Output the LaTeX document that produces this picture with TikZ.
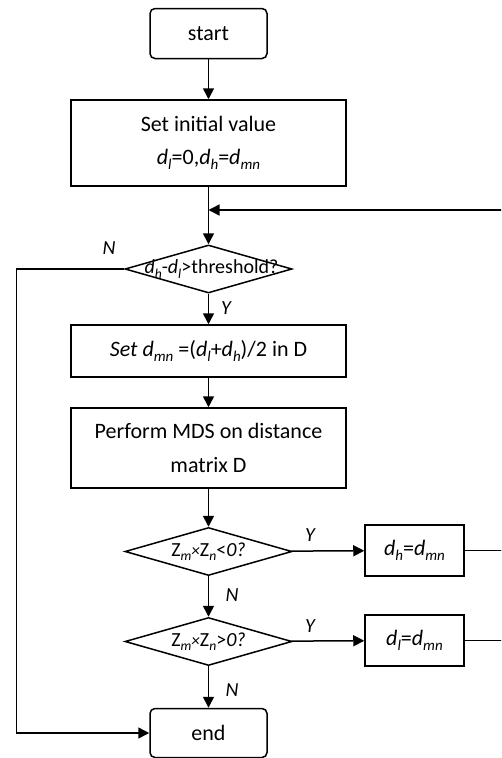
\documentclass[tikz,border=0pt]{standalone}
\usepackage{fontspec}
\setmainfont{Carlito}
\usetikzlibrary{shapes.geometric,arrows.meta}
\newcommand\lo[1]{\raisebox{-0.22em}{\scalebox{0.68}{\itshape #1}}}
\newcommand\vd{\textit{d}}
\newcommand\tms{{\itshape\scalebox{0.85}{×}}}
\tikzset{
  conn/.style={line width=1.5pt},
  >={Triangle[length=11pt,width=11pt]},
  box/.style={draw, line width=1.5pt, minimum width=275pt, inner sep=0pt, align=center, font=\fontsize{22}{34}\selectfont},
  term/.style={draw, line width=1.5pt, rounded corners=5pt, minimum width=117pt, minimum height=50pt, inner sep=0pt, font=\fontsize{22}{26}\selectfont},
  small/.style={draw, line width=1.5pt, minimum width=99pt, minimum height=51pt, inner sep=0pt, font=\fontsize{22}{26}\selectfont},
  dia/.style={draw, line width=1.5pt, shape=diamond, minimum width=167pt, minimum height=48pt, inner sep=0pt},
  dtext/.style={font=\fontsize{20}{24}\selectfont},
  lab/.style={font=\fontsize{20}{24}\selectfont\itshape, inner sep=0pt}
}
\begin{document}
\begin{tikzpicture}[x=1pt,y=-1pt]
\useasboundingbox (0,0) rectangle (501,758);
\clip (0,0) rectangle (501,758);
\node[term] (start) at (208.5,33.5) {start};
\node[box, minimum height=86pt] (init) at (208.5,143) {Set initial value\\[-1pt]\vd\lo{l}=0,\vd\lo{h}=\vd\lo{mn}};
\coordinate (fb) at (208.5,210);
\coordinate (R) at (505,210);
\coordinate (L) at (16.5,210);
\node[dia, label={[dtext, xshift=3pt]center:\vd\lo{h}-\vd\lo{l}>threshold?}] (d1) at (208.5,269) {};
\node[box, minimum height=52pt] (set) at (208.5,351) {\textit{Set} \vd\lo{mn} =(\vd\lo{l}+\vd\lo{h})/2 in D};
\node[box, minimum height=80pt] (mds) at (208.5,448) {Perform MDS on distance\\matrix D};
\node[dia, label={[dtext]center:Z\lo{m}\tms Z\lo{n}<\textit{0?}}] (d2) at (208.5,551.5) {};
\node[small] (hbox) at (414.5,550.5) {\vd\lo{h}=\vd\lo{mn}};
\node[dia, label={[dtext]center:Z\lo{m}\tms Z\lo{n}>\textit{0?}}] (d3) at (208.5,641.5) {};
\node[small] (lbox) at (414.5,640.5) {\vd\lo{l}=\vd\lo{mn}};
\node[term, minimum height=49pt] (end) at (208.5,733) {end};

\begin{scope}[conn]
\draw[->] (start) -- (init);
\draw[->] (init) -- (d1);
\draw[->] (d1) -- (set);
\draw[->] (set) -- (mds);
\draw[->] (mds) -- (d2);
\draw[->] (d2) -- (d3);
\draw[->] (d3) -- (end);
\draw[->] (d2) -- (hbox);
\draw[->] (d3) -- (lbox);
\draw (hbox.east) -- (R|-hbox.east);
\draw[->] (lbox.east) -- (R|-lbox.east) -- (R) -- (fb);
\draw[->] (d1.west) -- (L|-d1.west) -- (L|-end.west) -- (end.west);
\end{scope}

\node[lab] (n1) at (109,248) {N};
\node[lab] (y1) at (226,308) {Y};
\node[lab] (y2) at (310,535) {Y};
\node[lab] (n2) at (232,595) {N};
\node[lab] (y3) at (310,626) {Y};
\node[lab] (n3) at (232,690) {N};
\end{tikzpicture}
\end{document}
